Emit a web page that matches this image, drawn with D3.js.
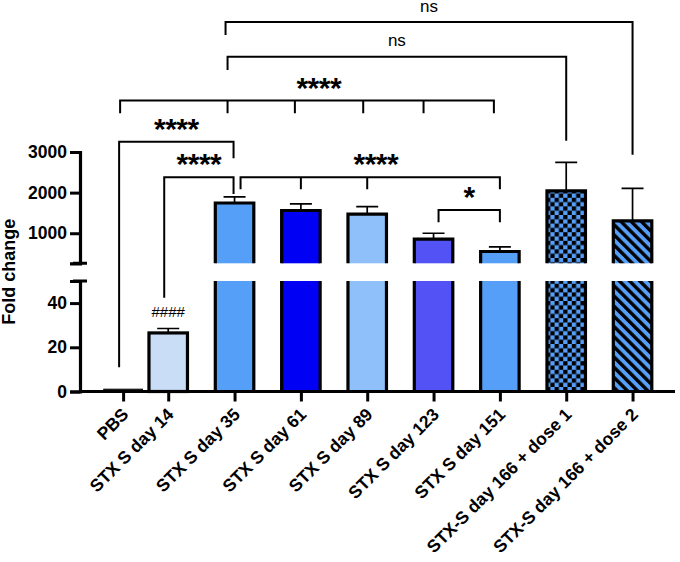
<!DOCTYPE html>
<html><head><meta charset="utf-8">
<script src="https://cdn.jsdelivr.net/npm/d3@7"></script>
<style>body{margin:0;background:#fff}</style>
</head><body>
<svg id="c" width="680" height="562"></svg>
<script>
// ---------- data ----------
const categories = ["PBS","STX S day 14","STX S day 35","STX S day 61","STX S day 89","STX S day 123","STX S day 151","STX-S day 166 + dose 1","STX-S day 166 + dose 2"];
const means  = [1, 26.5, 1745, 1560, 1470, 855, 550, 2045, 1305];
const errors = [0, 2, 150, 165, 185, 145, 115, 700, 800];
const lowerTicks = [0, 20, 40];
const upperTicks = [1000, 2000, 3000];
const annotations = ["", "####", "", "", "", "", "", "", ""];
// significance brackets: legs = [category index, leg end value]
const bracketLabels = ["ns", "ns", "****", "****", "****", "****", "*"];
const bracketLevels = [6200, 5345, 4265, 3255, 2377, 2377, 1572];
const bracketLegs = [
  [[2, 5880], [8, 2930]],
  [[2, 5020], [7, 3280]],
  [[0, 3955], [2, 3955], [3, 3955], [4, 3955], [5, 3955], [6, 3955]],
  [[0, 11], [2, 2845]],
  [[1, 42.4], [2, 1966]],
  [[2, 2080], [3, 2080], [4, 2080], [6, 2080]],
  [[5, 1270], [6, 1270]]
];

// ---------- styles / layout ----------
const fills = ["#e8eef8", "#c9ddf7", "#559ff9", "#0000f5", "#90c0f9", "#5252f5", "#559ff9", "url(#checker)", "url(#stripes)"];
const legOffsets = [[-9, 0], [-7, 0], [-3, -7, -6, -4, -10, -6], [-4, -1], [-4, -1], [6, 0, 0, 0], [5, 0]];
const labelSlots = [null, null, 3.27, null, null, 4.13, null];
const firstGap = 0.68; // PBS sits closer to the second bar
const font = "'Liberation Sans', Arial, Helvetica, sans-serif";

const svg = d3.select("#c");
const defs = svg.append("defs");
const blue = "#559ff9";
const cs = 4.3;
const chk = defs.append("pattern").attr("id", "checker").attr("patternUnits", "userSpaceOnUse")
  .attr("width", cs * 2).attr("height", cs * 2).attr("x", 546).attr("y", 0);
chk.append("rect").attr("width", cs * 2).attr("height", cs * 2).attr("fill", blue);
chk.append("rect").attr("width", cs).attr("height", cs).attr("fill", "#000");
chk.append("rect").attr("x", cs).attr("y", cs).attr("width", cs).attr("height", cs).attr("fill", "#000");
const st = defs.append("pattern").attr("id", "stripes").attr("patternUnits", "userSpaceOnUse")
  .attr("width", 7.2).attr("height", 7.2).attr("patternTransform", "rotate(-45)");
st.append("rect").attr("width", 7.2).attr("height", 7.2).attr("fill", blue);
st.append("rect").attr("width", 3.4).attr("height", 7.2).attr("fill", "#000");

// ---------- scales ----------
const slot = i => i === 0 ? 1 - firstGap : i;
const x = d3.scaleLinear().domain([-0.33, 8.64]).range([80, 675]);
const yLower = d3.scaleLinear().domain([0, 50]).range([391.5, 281]);
const yUpper = d3.scaleLinear().domain([260, 3000]).range([263.3, 152]);
const y = v => v <= 50 ? yLower(v) : yUpper(v);
const bw = 38.5;

const data = categories.map((c, i) => ({c, i, m: means[i], e: errors[i], fill: fills[i], cx: x(slot(i))}));

// ---------- error bars ----------
const eg = svg.append("g").attr("stroke", "#000").attr("stroke-width", 1.7).attr("fill", "none");
data.filter(d => d.e > 0).forEach(d => {
  eg.append("path").attr("d", `M${d.cx},${y(d.m)}V${y(d.m + d.e)}M${d.cx - 11},${y(d.m + d.e)}H${d.cx + 11}`);
});

// ---------- bars ----------
const bg = svg.append("g");
data.forEach(d => {
  const x0 = d.cx - bw / 2, x1 = d.cx + bw / 2;
  if (d.m <= 50) {
    bg.append("rect").attr("x", x0).attr("y", yLower(d.m)).attr("width", bw)
      .attr("height", yLower(0) - yLower(d.m)).attr("fill", d.fill)
      .attr("stroke", "#000").attr("stroke-width", d.i === 0 ? 1.2 : 3.2);
  } else {
    bg.append("rect").attr("x", x0).attr("y", yUpper(d.m)).attr("width", bw)
      .attr("height", yUpper(260) - yUpper(d.m)).attr("fill", d.fill);
    bg.append("rect").attr("x", x0).attr("y", yLower(50)).attr("width", bw)
      .attr("height", yLower(0) - yLower(50)).attr("fill", d.fill);
    bg.append("path").attr("fill", "none").attr("stroke", "#000").attr("stroke-width", 3.2)
      .attr("stroke-linejoin", "miter")
      .attr("d", `M${x0},${yUpper(260)}V${yUpper(d.m)}H${x1}V${yUpper(260)}M${x0},${yLower(50)}V${yLower(0)}M${x1},${yLower(50)}V${yLower(0)}`);
  }
});

// annotations (####)
svg.append("g").selectAll("text").data(data.filter(d => annotations[d.i])).join("text")
  .attr("x", d => d.cx).attr("y", d => y(d.m + d.e) - 12)
  .attr("text-anchor", "middle").attr("font-family", font).attr("font-size", 15)
  .text(d => annotations[d.i]);

// ---------- axes ----------
const axG = svg.append("g").attr("font-family", font);
const yAxU = axG.append("g").attr("transform", "translate(80,0)")
  .call(d3.axisLeft(yUpper).tickValues(upperTicks).tickFormat(d3.format("d")).tickSizeOuter(0).tickSize(10).tickPadding(3));
const yAxL = axG.append("g").attr("transform", "translate(80,0)")
  .call(d3.axisLeft(yLower).tickValues(lowerTicks).tickFormat(d3.format("d")).tickSizeOuter(0).tickSize(10).tickPadding(3));
const xAx = axG.append("g").attr("transform", `translate(0,${yLower(0)})`)
  .call(d3.axisBottom(x).tickValues(categories.map((c, i) => slot(i)))
    .tickFormat((v, i) => categories[i]).tickSizeOuter(0).tickSize(10));
[yAxU, yAxL, xAx].forEach(g => {
  g.selectAll(".domain").attr("stroke-width", 3.2);
  g.selectAll(".tick line").attr("stroke-width", 3);
  g.selectAll("text").attr("font-size", 17.5).attr("font-weight", "bold").attr("fill", "#000");
});
xAx.select(".domain").attr("d", `M80,0H675`);
xAx.selectAll(".tick text").attr("text-anchor", "end").attr("dy", null)
  .attr("transform", "translate(6,24) rotate(-45)").attr("y", 0).attr("x", 0);
// axis break caps
axG.append("path").attr("stroke", "#000").attr("stroke-width", 3)
  .attr("d", `M73,${yUpper(260)}H87M73,${yLower(50)}H87`);

// y title
svg.append("text").attr("transform", `translate(15,${(yUpper(3000) + yLower(0)) / 2}) rotate(-90)`)
  .attr("text-anchor", "middle").attr("font-family", font).attr("font-size", 18).attr("font-weight", "bold")
  .text("Fold change");

// ---------- brackets ----------
const brG = svg.append("g");
bracketLabels.forEach((lab, k) => {
  const lv = y(bracketLevels[k]);
  const legs = bracketLegs[k].map((l, j) => ({lx: x(slot(l[0])) + legOffsets[k][j], ly: y(l[1])}));
  const first = legs[0], last = legs[legs.length - 1];
  let d = `M${first.lx},${first.ly}V${lv}H${last.lx}V${last.ly}`;
  legs.slice(1, -1).forEach(l => { d += `M${l.lx},${lv}V${l.ly}`; });
  brG.append("path").attr("d", d).attr("fill", "none").attr("stroke", "#000").attr("stroke-width", 2);
  const tx = labelSlots[k] !== null ? x(labelSlots[k]) : (first.lx + last.lx) / 2;
  const isNs = lab === "ns";
  brG.append("text").attr("x", tx).attr("y", isNs ? lv - 10.5 : lv - 3)
    .attr("text-anchor", "middle").attr("font-family", font)
    .attr("font-size", isNs ? 17 : 30).attr("font-weight", isNs ? "normal" : "bold")
    .attr("letter-spacing", isNs ? 0 : -0.5)
    .text(lab);
});
</script>
</body></html>
